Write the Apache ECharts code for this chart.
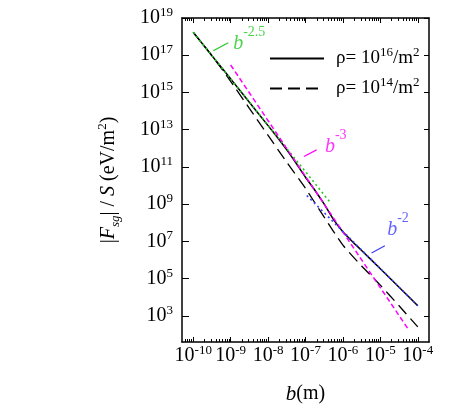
<!DOCTYPE html>
<html><head><meta charset="utf-8">
<script src="https://cdn.jsdelivr.net/npm/echarts@6/dist/echarts.min.js"></script>
<style>html,body{margin:0;padding:0;background:#fff}#c{width:463px;height:411px}</style>
</head><body><div id="c"></div>
<script>
// ---- data ----
const xTickExps = [-10, -9, -8, -7, -6, -5, -4];
const yTickExps = [3, 5, 7, 9, 11, 13, 15, 17, 19];

// rho = 1e16 /m^2 (solid)
const solidB = [1e-10, 3.16e-10, 1e-9, 3.16e-9, 1e-8, 1.78e-8, 3.16e-8, 5.62e-8, 1e-7, 1.78e-7, 3.16e-7, 5.62e-7, 1e-6, 1.78e-6, 3.16e-6, 1e-5, 3.16e-5, 1e-4];
const solidF = [1.7e18, 9.5e16, 5.4e15, 3.0e14, 1.66e13, 3.8e12, 8.3e11, 1.58e11, 2.8e10, 5.6e9, 1.0e9, 1.48e8, 3.3e7, 1.0e7, 3.3e6, 3.4e5, 3.5e4, 3.5e3];

// rho = 1e14 /m^2 (dashed)
const dashedB = [1e-10, 3.16e-10, 1e-9, 3.16e-9, 1e-8, 3.16e-8, 1e-7, 3.16e-7, 1e-6, 3.16e-6, 1e-5, 3.16e-5, 1e-4];
const dashedF = [1.7e18, 9.5e16, 4.0e15, 1.4e14, 5.0e12, 1.78e11, 7.1e9, 2.0e8, 6.3e6, 4.8e5, 4.5e4, 3.5e3, 2.6e2];

// power-law guides
const greenB = [1e-10, 4.5e-7];
const greenF = [1.7e18, 1.3e9];
const magentaB = [1e-9, 5.5e-5];
const magentaF = [3.0e16, 2.0e2];
const blueB = [1.08e-7, 1e-4];
const blueF = [2.95e9, 3.5e3];

// annotation leaders and labels
const greenLeadB = [3.44e-10, 8.63e-10];
const greenLeadF = [1.74e17, 4.68e17];
const magentaLeadB = [9.08e-8, 1.98e-7];
const magentaLeadF = [3.63e11, 8.3e11];
const blueLeadB = [5.82e-6, 1.32e-5];
const blueLeadF = [2.4e6, 5.9e6];
const annotB = [1.17e-9, 3.3e-7, 1.52e-5];
const annotF = [4.4e17, 1.26e12, 4.3e7];
const annotExp = ['-2.5', '-3', '-2'];

const legendNames = ['ρ= 10^16/m^2', 'ρ= 10^14/m^2'];

// ---- build ----
const L = Math.log10;
const pts = (bs, fs) => bs.map((b, i) => [L(b), L(fs[i])]);

const SERIF = "'Liberation Serif', 'Times New Roman', serif";
const xMinor = [];
for (let n = -11; n <= -4; n++) for (let k = 2; k <= 9; k++) {
  const v = n + L(k);
  if (v > -10.3 && v < -3.7) xMinor.push(v);
}
const XMIN = -10.3, XMAX = -3.7, YMIN = 1.6, YMAX = 19;

const tickRich = {
  b: { fontFamily: SERIF, fontSize: 20, lineHeight: 24, color: '#000' },
  s: { fontFamily: SERIF, fontSize: 13, lineHeight: 13, verticalAlign: 'top', color: '#000' }
};
const powFmt = v => '{b|10}{s|' + Math.round(v) + '}';

const green = '#22c822', magenta = '#ff00ff', blue = '#3c3cff';

function annotLabel(color) {
  return {
    show: true, position: 'right', distance: 0, fontFamily: SERIF,
    formatter: p => '{i|b}{s|' + p.data[2] + '}',
    rich: {
      i: { fontFamily: SERIF, fontStyle: 'italic', fontSize: 20, lineHeight: 36, color: color },
      s: { fontFamily: SERIF, fontSize: 14, lineHeight: 14, verticalAlign: 'top', color: color }
    }
  };
}

const baseX = {
  type: 'value', min: XMIN, max: XMAX, splitLine: { show: false },
  axisLine: { onZero: false, lineStyle: { color: '#000', width: 1.5 } }
};
const baseY = {
  type: 'value', min: YMIN, max: YMAX, splitLine: { show: false },
  axisLine: { onZero: false, lineStyle: { color: '#000', width: 1.5 } }
};

const option = {
  animation: false,
  backgroundColor: '#fff',
  textStyle: { fontFamily: SERIF },
  grid: { left: 182, right: 34, top: 18, bottom: 69, containLabel: false },
  legend: {
    data: legendNames, orient: 'vertical', left: 269, top: 46, padding: 0,
    itemWidth: 54, itemHeight: 14, itemGap: 8,
    itemStyle: { color: 'rgba(0,0,0,0)', borderWidth: 0, opacity: 0 },
    formatter: name => {
      const m = name.match(/10\^(\d+)/);
      return '{n|ρ= 10}{s|' + m[1] + '}{n|/m}{s|2}';
    },
    textStyle: {
      padding: [0, 0, 0, 7], fontFamily: SERIF,
      rich: {
        n: { fontFamily: SERIF, fontSize: 19, lineHeight: 25, color: '#000' },
        s: { fontFamily: SERIF, fontSize: 13, lineHeight: 13, verticalAlign: 'top', color: '#000' }
      }
    }
  },
  xAxis: [
    Object.assign({}, baseX, {
      position: 'bottom',
      axisTick: { inside: true, length: 5, customValues: xTickExps, lineStyle: { color: '#000', width: 1 } },
      axisLabel: { customValues: xTickExps, formatter: powFmt, rich: tickRich, margin: 2, fontFamily: SERIF },
      name: '{i|b}{n|(m)}', nameLocation: 'middle', nameGap: 40,
      nameTextStyle: { fontFamily: SERIF, rich: {
        i: { fontFamily: SERIF, fontStyle: 'italic', fontSize: 21, lineHeight: 24, color: '#000' },
        n: { fontFamily: SERIF, fontSize: 20, lineHeight: 24, color: '#000' } } }
    }),
    Object.assign({}, baseX, {
      position: 'top',
      axisTick: { inside: true, length: 5, customValues: xTickExps, lineStyle: { color: '#000', width: 1 } },
      axisLabel: { show: false }
    }),
    Object.assign({}, baseX, {
      position: 'bottom', axisLine: { show: false, onZero: false },
      axisTick: { inside: true, length: 3, customValues: xMinor, lineStyle: { color: '#000', width: 1 } },
      axisLabel: { show: false }
    }),
    Object.assign({}, baseX, {
      position: 'top', axisLine: { show: false, onZero: false },
      axisTick: { inside: true, length: 3, customValues: xMinor, lineStyle: { color: '#000', width: 1 } },
      axisLabel: { show: false }
    })
  ],
  yAxis: [
    Object.assign({}, baseY, {
      position: 'left',
      axisTick: { inside: true, length: 7, customValues: yTickExps, lineStyle: { color: '#000', width: 1 } },
      axisLabel: { customValues: yTickExps, formatter: powFmt, rich: tickRich, margin: 9, fontFamily: SERIF },
      name: '{n|\u007C}{i|F}{sub|sg}{n|\u007C / }{i|S}{n| (eV/m}{sup|2}{n|)}',
      nameLocation: 'middle', nameGap: 60, nameRotate: 90,
      nameTextStyle: { fontFamily: SERIF, rich: {
        n: { fontFamily: SERIF, fontSize: 20, lineHeight: 26, color: '#000' },
        i: { fontFamily: SERIF, fontStyle: 'italic', fontSize: 20, lineHeight: 26, color: '#000' },
        sub: { fontFamily: SERIF, fontStyle: 'italic', fontSize: 13, lineHeight: 13, verticalAlign: 'bottom', color: '#000' },
        sup: { fontFamily: SERIF, fontSize: 13, lineHeight: 13, verticalAlign: 'top', color: '#000' } } }
    }),
    Object.assign({}, baseY, {
      position: 'right',
      axisTick: { inside: true, length: 5, customValues: yTickExps, lineStyle: { color: '#000', width: 1 } },
      axisLabel: { show: false }
    })
  ],
  series: [
    { name: legendNames[0], type: 'line', data: pts(solidB, solidF), symbol: 'none', smooth: 0.2,
      lineStyle: { color: '#000', width: 1.5 }, itemStyle: { color: '#000' }, z: 2 },
    { name: legendNames[1], type: 'line', data: pts(dashedB, dashedF), symbol: 'none', smooth: 0.2,
      lineStyle: { color: '#000', width: 1.3, type: [12, 6] }, itemStyle: { color: '#000' }, z: 2 },
    { name: 'g', type: 'line', data: pts(greenB, greenF), symbol: 'none',
      lineStyle: { color: green, width: 1.6, type: [2, 3] }, z: 3 },
    { name: 'm', type: 'line', data: pts(magentaB, magentaF), symbol: 'none',
      lineStyle: { color: magenta, width: 1.5, type: [5, 3] }, z: 3 },
    { name: 'bl', type: 'line', data: pts(blueB, blueF), symbol: 'none',
      lineStyle: { color: blue, width: 1.6, type: [2, 3] }, z: 3 },
    { name: 'gl', type: 'line', data: pts(greenLeadB, greenLeadF), symbol: 'none', lineStyle: { color: green, width: 1.2 } },
    { name: 'ml', type: 'line', data: pts(magentaLeadB, magentaLeadF), symbol: 'none', lineStyle: { color: magenta, width: 1.2 } },
    { name: 'bll', type: 'line', data: pts(blueLeadB, blueLeadF), symbol: 'none', lineStyle: { color: blue, width: 1.2 } },
    { name: 'ag', type: 'scatter', symbolSize: 0, data: [[L(annotB[0]), L(annotF[0]), annotExp[0]]], label: annotLabel(green) },
    { name: 'am', type: 'scatter', symbolSize: 0, data: [[L(annotB[1]), L(annotF[1]), annotExp[1]]], label: annotLabel(magenta) },
    { name: 'ab', type: 'scatter', symbolSize: 0, data: [[L(annotB[2]), L(annotF[2]), annotExp[2]]], label: annotLabel(blue) }
  ]
};
const chart = echarts.init(document.getElementById('c'), null, { renderer: 'canvas' });
chart.setOption(option);
</script></body></html>
